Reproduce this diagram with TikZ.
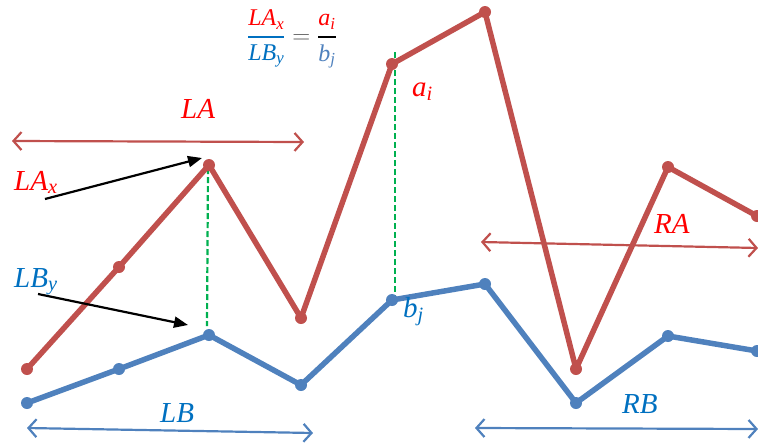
\documentclass[tikz,border=0pt]{standalone}
\usepackage{fontspec}
\usepackage{amsmath}
\setmainfont{Liberation Serif}
\usetikzlibrary{arrows.meta}
\definecolor{lred}{HTML}{C0504D}
\definecolor{lblue}{HTML}{4F81BD}
\definecolor{tred}{HTML}{FF0000}
\definecolor{tblue}{HTML}{0070C0}
\definecolor{tgreen}{HTML}{00B050}
\definecolor{tgray}{HTML}{595959}
\newcommand{\lsub}[2]{#1$_{\text{#2}}$}
\newcommand{\thickfrac}[2]{\genfrac{}{}{2.2pt}{0}{#1}{#2}}
\begin{document}
\begin{tikzpicture}[x=1pt,y=-1pt,
  redline/.style={lred,line width=5.5pt,line join=round},
  blueline/.style={lblue,line width=5.5pt,line join=round},
  reddot/.style={fill=lred},
  bluedot/.style={fill=lblue},
  guide/.style={tgreen,line width=2.2pt,dash pattern=on 6pt off 3pt},
  span/.style={line width=2.2pt,{Straight Barb[length=8pt,width=18pt,line width=2.2pt]}-{Straight Barb[length=8pt,width=18pt,line width=2.2pt]}},
  pointer/.style={black,line width=2.2pt,-{Triangle[length=14pt,width=11pt]}},
  lbl/.style={font=\fontsize{29}{33}\selectfont\itshape,inner sep=0pt,anchor=base west}]
\useasboundingbox (0,0) rectangle (758,445);
% red series
\coordinate (r1) at (27,369);
\coordinate (r2) at (119,267);
\coordinate (r3) at (209,165);
\coordinate (r4) at (301,318);
\coordinate (r5) at (392,64);
\coordinate (r6) at (485,12);
\coordinate (r7) at (576,369);
\coordinate (r8) at (668,167);
\coordinate (r9) at (757,216);
% blue series
\coordinate (b1) at (27,403);
\coordinate (b2) at (119,369);
\coordinate (b3) at (209,335);
\coordinate (b4) at (301,385);
\coordinate (b5) at (392,300);
\coordinate (b6) at (485,284);
\coordinate (b7) at (576,403);
\coordinate (b8) at (668,336);
\coordinate (b9) at (757,351);
% green guides
\coordinate (g1a) at (208,168);
\coordinate (g1b) at (207,326);
\coordinate (g2a) at (395,52);
\coordinate (g2b) at (395,300);
\draw[guide] (g1a) -- (g1b);
\draw[guide] (g2a) -- (g2b);
\draw[redline] (r1) -- (r2) -- (r3) -- (r4) -- (r5) -- (r6) -- (r7) -- (r8) -- (r9);
\draw[blueline] (b1) -- (b2) -- (b3) -- (b4) -- (b5) -- (b6) -- (b7) -- (b8) -- (b9);
\foreach \p in {r1,r2,r3,r4,r5,r6,r7,r8,r9} \fill[reddot] (\p) circle (6pt);
\foreach \p in {b1,b2,b3,b4,b5,b6,b7,b8,b9} \fill[bluedot] (\p) circle (6pt);
% spans
\coordinate (la1) at (12,141);
\coordinate (la2) at (304,142);
\coordinate (ra1) at (481,242);
\coordinate (ra2) at (758,248);
\coordinate (lb1) at (27,428);
\coordinate (lb2) at (313,433);
\coordinate (rb1) at (475,428);
\coordinate (rb2) at (758,429);
\draw[span,lred] (la1) -- (la2);
\draw[span,lred] (ra1) -- (ra2);
\draw[span,lblue] (lb1) -- (lb2);
\draw[span,lblue] (rb1) -- (rb2);
% pointers
\coordinate (px1) at (45,199);
\coordinate (px2) at (202,158);
\coordinate (py1) at (38,294);
\coordinate (py2) at (188,325);
\draw[pointer] (px1) -- (px2);
\draw[pointer] (py1) -- (py2);
% labels
\node[lbl,text=tred] (tLA) at (181,118) {LA};
\node[lbl,text=tred] (tLAx) at (14,190) {\lsub{LA}{x}};
\node[lbl,text=tblue] (tLBy) at (14,287) {\lsub{LB}{y}};
\node[lbl,text=tred] (tai) at (412,96) {\lsub{a}{i}};
\node[lbl,text=tblue] (tbj) at (403,317) {\lsub{b}{j}};
\node[lbl,text=tred] (tRA) at (654,233) {RA};
\node[lbl,text=tblue] (tLB) at (160,422) {LB};
\node[lbl,text=tblue] (tRB) at (622,413) {RB};
\node[inner sep=0pt,font=\fontsize{24}{28}\selectfont\itshape] (formula) at (292,39)
  {$\displaystyle {\color{tblue}\thickfrac{\color{tred}\text{\lsub{LA}{x}}}{\text{\lsub{LB}{y}}}} \mathrel{\color{tgray}=} \thickfrac{\color{tred}\text{\lsub{a}{i}}}{\color{lblue}\text{\lsub{b}{j}}}$};
\end{tikzpicture}
\end{document}
